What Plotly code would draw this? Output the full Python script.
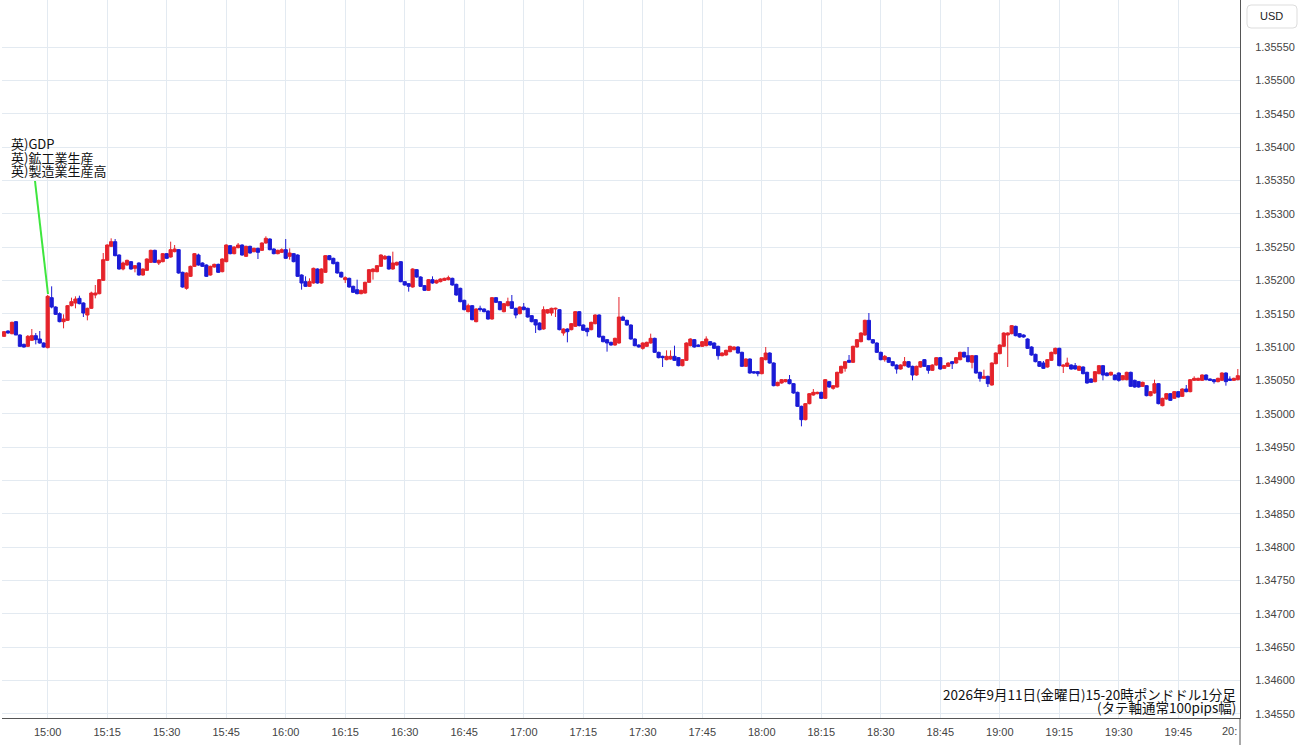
import plotly.graph_objects as go
import pandas as pd

# ---------------- data (GBP/USD 1-minute candles, 2026-09-11 14:49 - 20:00) ----------------
start_time = "2026-09-11 14:49"

opens = [
    1.35116, 1.35124, 1.35120, 1.35138, 1.35118, 1.35104, 1.35101, 1.35110, 1.35117, 1.35112, 1.35106,
    1.35099, 1.35174, 1.35160, 1.35150, 1.35138, 1.35140, 1.35162, 1.35166, 1.35173, 1.35166,
    1.35148, 1.35158, 1.35178, 1.35180, 1.35200, 1.35230, 1.35251, 1.35258, 1.35238, 1.35217,
    1.35223, 1.35228, 1.35218, 1.35226, 1.35208, 1.35215, 1.35227, 1.35245, 1.35226, 1.35228,
    1.35240, 1.35235, 1.35243, 1.35246, 1.35212, 1.35188, 1.35206, 1.35221, 1.35238, 1.35226,
    1.35223, 1.35208, 1.35220, 1.35224, 1.35213, 1.35228, 1.35252, 1.35240, 1.35249, 1.35253,
    1.35236, 1.35251, 1.35243, 1.35248, 1.35245, 1.35256, 1.35262, 1.35247, 1.35240, 1.35242,
    1.35246, 1.35236, 1.35240, 1.35238, 1.35208, 1.35198, 1.35191, 1.35196, 1.35217, 1.35196,
    1.35212, 1.35237, 1.35233, 1.35227, 1.35212, 1.35201, 1.35203, 1.35191, 1.35186, 1.35180,
    1.35181, 1.35197, 1.35213, 1.35213, 1.35221, 1.35232, 1.35236, 1.35217, 1.35223, 1.35228,
    1.35198, 1.35195, 1.35190, 1.35216, 1.35205, 1.35192, 1.35185, 1.35201, 1.35196, 1.35198,
    1.35200, 1.35201, 1.35203, 1.35194, 1.35188, 1.35170, 1.35153, 1.35162, 1.35138, 1.35158,
    1.35157, 1.35154, 1.35142, 1.35174, 1.35168, 1.35153, 1.35162, 1.35168, 1.35158, 1.35150,
    1.35160, 1.35158, 1.35147, 1.35141, 1.35136, 1.35127, 1.35151, 1.35151, 1.35157, 1.35156,
    1.35121, 1.35127, 1.35126, 1.35131, 1.35153, 1.35133, 1.35128, 1.35126, 1.35135, 1.35148,
    1.35116, 1.35111, 1.35107, 1.35103, 1.35106, 1.35145, 1.35140, 1.35133, 1.35112, 1.35103,
    1.35098, 1.35101, 1.35106, 1.35113, 1.35092, 1.35086, 1.35081, 1.35082, 1.35086, 1.35084,
    1.35072, 1.35080, 1.35102, 1.35111, 1.35103, 1.35101, 1.35102, 1.35108, 1.35106, 1.35101,
    1.35087, 1.35088, 1.35093, 1.35096, 1.35100, 1.35092, 1.35071, 1.35082, 1.35063, 1.35063,
    1.35060, 1.35081, 1.35091, 1.35076, 1.35042, 1.35046, 1.35048, 1.35051, 1.35045, 1.35032,
    1.35011, 1.34991, 1.35015, 1.35028, 1.35030, 1.35032, 1.35023, 1.35048, 1.35038, 1.35040,
    1.35061, 1.35068, 1.35080, 1.35077, 1.35100, 1.35108, 1.35118, 1.35140, 1.35111, 1.35106,
    1.35092, 1.35081, 1.35084, 1.35078, 1.35073, 1.35067, 1.35072, 1.35078, 1.35071, 1.35058,
    1.35070, 1.35081, 1.35072, 1.35065, 1.35073, 1.35084, 1.35068, 1.35071, 1.35078, 1.35076,
    1.35081, 1.35092, 1.35087, 1.35077, 1.35087, 1.35062, 1.35053, 1.35056, 1.35043, 1.35075,
    1.35090, 1.35101, 1.35118, 1.35120, 1.35131, 1.35120, 1.35118, 1.35112, 1.35100, 1.35089,
    1.35078, 1.35076, 1.35070, 1.35080, 1.35090, 1.35098, 1.35071, 1.35071, 1.35073, 1.35072,
    1.35065, 1.35070, 1.35062, 1.35052, 1.35048, 1.35060, 1.35072, 1.35061, 1.35058, 1.35058,
    1.35061, 1.35051, 1.35051, 1.35062, 1.35050, 1.35048, 1.35041, 1.35042, 1.35027, 1.35031,
    1.35045, 1.35012, 1.35022, 1.35030, 1.35023, 1.35033, 1.35026, 1.35037, 1.35033, 1.35050,
    1.35050, 1.35050, 1.35058, 1.35052, 1.35051, 1.35048, 1.35050, 1.35061, 1.35052, 1.35050, 1.35051,
]

highs = [
    1.35124, 1.35125, 1.35138, 1.35139, 1.35119, 1.35105, 1.35118, 1.35127, 1.35121, 1.35124, 1.35107,
    1.35178, 1.35191, 1.35161, 1.35152, 1.35149, 1.35163, 1.35174, 1.35176, 1.35177, 1.35167,
    1.35159, 1.35183, 1.35193, 1.35202, 1.35241, 1.35254, 1.35263, 1.35262, 1.35239, 1.35228,
    1.35231, 1.35229, 1.35223, 1.35227, 1.35218, 1.35233, 1.35246, 1.35246, 1.35231, 1.35241,
    1.35241, 1.35258, 1.35253, 1.35247, 1.35213, 1.35212, 1.35222, 1.35241, 1.35240, 1.35227,
    1.35224, 1.35222, 1.35225, 1.35225, 1.35233, 1.35254, 1.35253, 1.35251, 1.35256, 1.35254,
    1.35252, 1.35252, 1.35249, 1.35249, 1.35257, 1.35266, 1.35263, 1.35248, 1.35246, 1.35248,
    1.35262, 1.35248, 1.35241, 1.35239, 1.35209, 1.35206, 1.35203, 1.35219, 1.35218, 1.35218,
    1.35238, 1.35238, 1.35234, 1.35228, 1.35213, 1.35206, 1.35204, 1.35192, 1.35201, 1.35186,
    1.35198, 1.35217, 1.35218, 1.35223, 1.35239, 1.35238, 1.35237, 1.35243, 1.35228, 1.35229,
    1.35199, 1.35196, 1.35218, 1.35217, 1.35206, 1.35193, 1.35202, 1.35206, 1.35201, 1.35203,
    1.35204, 1.35207, 1.35204, 1.35195, 1.35189, 1.35171, 1.35165, 1.35163, 1.35158, 1.35162,
    1.35158, 1.35155, 1.35175, 1.35175, 1.35169, 1.35166, 1.35174, 1.35178, 1.35159, 1.35161,
    1.35166, 1.35159, 1.35148, 1.35142, 1.35137, 1.35161, 1.35157, 1.35159, 1.35159, 1.35157,
    1.35128, 1.35128, 1.35136, 1.35154, 1.35154, 1.35134, 1.35129, 1.35138, 1.35149, 1.35149,
    1.35117, 1.35112, 1.35108, 1.35114, 1.35175, 1.35147, 1.35141, 1.35134, 1.35113, 1.35104,
    1.35107, 1.35108, 1.35120, 1.35114, 1.35093, 1.35087, 1.35095, 1.35095, 1.35102, 1.35085,
    1.35082, 1.35107, 1.35113, 1.35112, 1.35104, 1.35109, 1.35116, 1.35109, 1.35107, 1.35102,
    1.35092, 1.35096, 1.35102, 1.35101, 1.35101, 1.35093, 1.35083, 1.35083, 1.35064, 1.35064,
    1.35085, 1.35100, 1.35092, 1.35077, 1.35048, 1.35052, 1.35052, 1.35058, 1.35046, 1.35033,
    1.35012, 1.35016, 1.35031, 1.35037, 1.35033, 1.35033, 1.35052, 1.35049, 1.35043, 1.35063,
    1.35072, 1.35079, 1.35088, 1.35102, 1.35112, 1.35122, 1.35141, 1.35151, 1.35112, 1.35107,
    1.35093, 1.35088, 1.35085, 1.35079, 1.35074, 1.35074, 1.35085, 1.35079, 1.35072, 1.35072,
    1.35079, 1.35082, 1.35073, 1.35074, 1.35085, 1.35085, 1.35073, 1.35077, 1.35079, 1.35085,
    1.35093, 1.35093, 1.35100, 1.35088, 1.35088, 1.35063, 1.35066, 1.35057, 1.35077, 1.35092,
    1.35104, 1.35122, 1.35122, 1.35133, 1.35132, 1.35121, 1.35119, 1.35113, 1.35101, 1.35090,
    1.35079, 1.35079, 1.35082, 1.35093, 1.35099, 1.35099, 1.35074, 1.35084, 1.35074, 1.35076,
    1.35072, 1.35071, 1.35063, 1.35053, 1.35064, 1.35073, 1.35073, 1.35062, 1.35063, 1.35059,
    1.35062, 1.35058, 1.35063, 1.35063, 1.35051, 1.35049, 1.35048, 1.35043, 1.35034, 1.35051,
    1.35046, 1.35024, 1.35031, 1.35031, 1.35034, 1.35034, 1.35038, 1.35043, 1.35052, 1.35056,
    1.35054, 1.35059, 1.35059, 1.35053, 1.35052, 1.35054, 1.35062, 1.35062, 1.35056, 1.35054, 1.35067,
]

lows = [
    1.35115, 1.35120, 1.35119, 1.35118, 1.35100, 1.35099, 1.35100, 1.35109, 1.35104, 1.35105, 1.35099,
    1.35098, 1.35158, 1.35148, 1.35137, 1.35128, 1.35139, 1.35161, 1.35158, 1.35164, 1.35145,
    1.35140, 1.35157, 1.35173, 1.35179, 1.35199, 1.35229, 1.35250, 1.35236, 1.35216, 1.35215,
    1.35222, 1.35216, 1.35212, 1.35207, 1.35207, 1.35214, 1.35226, 1.35226, 1.35223, 1.35227,
    1.35232, 1.35234, 1.35242, 1.35210, 1.35189, 1.35186, 1.35205, 1.35220, 1.35222, 1.35220,
    1.35205, 1.35207, 1.35219, 1.35211, 1.35212, 1.35227, 1.35239, 1.35239, 1.35248, 1.35237,
    1.35235, 1.35240, 1.35242, 1.35232, 1.35244, 1.35255, 1.35245, 1.35239, 1.35239, 1.35241,
    1.35232, 1.35231, 1.35227, 1.35205, 1.35186, 1.35190, 1.35190, 1.35195, 1.35195, 1.35195,
    1.35211, 1.35230, 1.35224, 1.35210, 1.35204, 1.35196, 1.35189, 1.35181, 1.35179, 1.35179,
    1.35180, 1.35196, 1.35201, 1.35212, 1.35220, 1.35231, 1.35216, 1.35216, 1.35222, 1.35197,
    1.35192, 1.35183, 1.35189, 1.35204, 1.35190, 1.35184, 1.35184, 1.35195, 1.35195, 1.35197,
    1.35199, 1.35200, 1.35192, 1.35177, 1.35167, 1.35155, 1.35152, 1.35140, 1.35137, 1.35153,
    1.35152, 1.35141, 1.35141, 1.35166, 1.35155, 1.35152, 1.35161, 1.35157, 1.35143, 1.35149,
    1.35155, 1.35144, 1.35137, 1.35121, 1.35125, 1.35126, 1.35150, 1.35147, 1.35145, 1.35125,
    1.35117, 1.35107, 1.35125, 1.35130, 1.35131, 1.35124, 1.35116, 1.35125, 1.35134, 1.35114,
    1.35107, 1.35093, 1.35102, 1.35102, 1.35105, 1.35139, 1.35132, 1.35111, 1.35101, 1.35099,
    1.35096, 1.35100, 1.35105, 1.35091, 1.35083, 1.35070, 1.35080, 1.35081, 1.35079, 1.35071,
    1.35071, 1.35079, 1.35101, 1.35099, 1.35100, 1.35100, 1.35101, 1.35102, 1.35097, 1.35081,
    1.35086, 1.35087, 1.35092, 1.35095, 1.35090, 1.35070, 1.35070, 1.35060, 1.35060, 1.35056,
    1.35059, 1.35080, 1.35075, 1.35041, 1.35041, 1.35045, 1.35047, 1.35044, 1.35030, 1.35010,
    1.34981, 1.34990, 1.35014, 1.35027, 1.35029, 1.35022, 1.35022, 1.35039, 1.35036, 1.35039,
    1.35060, 1.35063, 1.35076, 1.35076, 1.35099, 1.35107, 1.35117, 1.35110, 1.35105, 1.35091,
    1.35080, 1.35078, 1.35076, 1.35071, 1.35060, 1.35066, 1.35071, 1.35069, 1.35050, 1.35057,
    1.35069, 1.35070, 1.35060, 1.35064, 1.35072, 1.35066, 1.35067, 1.35070, 1.35067, 1.35075,
    1.35080, 1.35084, 1.35077, 1.35068, 1.35060, 1.35048, 1.35052, 1.35040, 1.35042, 1.35074,
    1.35089, 1.35100, 1.35070, 1.35119, 1.35116, 1.35114, 1.35114, 1.35097, 1.35087, 1.35077,
    1.35070, 1.35067, 1.35069, 1.35079, 1.35089, 1.35071, 1.35061, 1.35070, 1.35066, 1.35066,
    1.35064, 1.35059, 1.35045, 1.35046, 1.35047, 1.35059, 1.35050, 1.35056, 1.35057, 1.35050,
    1.35048, 1.35050, 1.35050, 1.35040, 1.35039, 1.35039, 1.35040, 1.35026, 1.35026, 1.35030,
    1.35014, 1.35011, 1.35021, 1.35019, 1.35022, 1.35024, 1.35025, 1.35032, 1.35032, 1.35049,
    1.35049, 1.35049, 1.35050, 1.35049, 1.35045, 1.35047, 1.35049, 1.35042, 1.35049, 1.35049, 1.35050,
]

closes = [
    1.35123, 1.35121, 1.35137, 1.35118, 1.35101, 1.35100, 1.35116, 1.35117, 1.35111, 1.35106, 1.35100,
    1.35176, 1.35160, 1.35149, 1.35138, 1.35142, 1.35162, 1.35168, 1.35172, 1.35165, 1.35151,
    1.35158, 1.35181, 1.35181, 1.35201, 1.35231, 1.35253, 1.35258, 1.35237, 1.35217, 1.35226,
    1.35230, 1.35217, 1.35222, 1.35208, 1.35217, 1.35232, 1.35245, 1.35227, 1.35230, 1.35240,
    1.35233, 1.35246, 1.35247, 1.35211, 1.35190, 1.35211, 1.35221, 1.35240, 1.35223, 1.35221,
    1.35206, 1.35221, 1.35224, 1.35212, 1.35232, 1.35253, 1.35240, 1.35250, 1.35253, 1.35238,
    1.35251, 1.35241, 1.35248, 1.35242, 1.35256, 1.35263, 1.35246, 1.35240, 1.35245, 1.35246,
    1.35233, 1.35241, 1.35228, 1.35206, 1.35196, 1.35191, 1.35198, 1.35218, 1.35196, 1.35217,
    1.35237, 1.35231, 1.35225, 1.35211, 1.35205, 1.35204, 1.35190, 1.35182, 1.35180, 1.35185,
    1.35197, 1.35216, 1.35217, 1.35222, 1.35238, 1.35236, 1.35217, 1.35226, 1.35227, 1.35198,
    1.35193, 1.35191, 1.35217, 1.35205, 1.35191, 1.35185, 1.35201, 1.35196, 1.35200, 1.35202,
    1.35203, 1.35204, 1.35193, 1.35178, 1.35168, 1.35156, 1.35162, 1.35141, 1.35157, 1.35156,
    1.35153, 1.35142, 1.35174, 1.35167, 1.35156, 1.35165, 1.35168, 1.35158, 1.35148, 1.35160,
    1.35156, 1.35145, 1.35138, 1.35133, 1.35126, 1.35156, 1.35156, 1.35158, 1.35158, 1.35126,
    1.35127, 1.35123, 1.35135, 1.35153, 1.35132, 1.35125, 1.35123, 1.35137, 1.35148, 1.35115,
    1.35108, 1.35106, 1.35103, 1.35113, 1.35145, 1.35140, 1.35133, 1.35112, 1.35102, 1.35100,
    1.35106, 1.35107, 1.35113, 1.35092, 1.35084, 1.35084, 1.35086, 1.35086, 1.35080, 1.35072,
    1.35081, 1.35106, 1.35112, 1.35100, 1.35101, 1.35108, 1.35112, 1.35103, 1.35098, 1.35087,
    1.35091, 1.35095, 1.35101, 1.35100, 1.35091, 1.35071, 1.35082, 1.35061, 1.35061, 1.35060,
    1.35084, 1.35091, 1.35076, 1.35042, 1.35047, 1.35051, 1.35051, 1.35045, 1.35031, 1.35011,
    1.34991, 1.35015, 1.35030, 1.35032, 1.35032, 1.35023, 1.35051, 1.35040, 1.35042, 1.35062,
    1.35071, 1.35078, 1.35077, 1.35101, 1.35111, 1.35121, 1.35140, 1.35111, 1.35106, 1.35092,
    1.35081, 1.35086, 1.35077, 1.35072, 1.35067, 1.35073, 1.35078, 1.35070, 1.35058, 1.35071,
    1.35078, 1.35071, 1.35065, 1.35073, 1.35084, 1.35067, 1.35072, 1.35076, 1.35075, 1.35084,
    1.35092, 1.35085, 1.35078, 1.35087, 1.35061, 1.35053, 1.35056, 1.35045, 1.35076, 1.35091,
    1.35103, 1.35121, 1.35121, 1.35132, 1.35117, 1.35115, 1.35115, 1.35098, 1.35088, 1.35078,
    1.35071, 1.35068, 1.35081, 1.35092, 1.35098, 1.35072, 1.35073, 1.35076, 1.35067, 1.35067,
    1.35071, 1.35060, 1.35046, 1.35047, 1.35063, 1.35072, 1.35058, 1.35057, 1.35062, 1.35051,
    1.35050, 1.35057, 1.35062, 1.35041, 1.35040, 1.35040, 1.35047, 1.35027, 1.35033, 1.35045,
    1.35015, 1.35023, 1.35030, 1.35020, 1.35033, 1.35025, 1.35037, 1.35033, 1.35051, 1.35053,
    1.35053, 1.35058, 1.35051, 1.35050, 1.35048, 1.35053, 1.35061, 1.35048, 1.35050, 1.35053, 1.35057,
]

x_tick_labels = ["15:00", "15:15", "15:30", "15:45", "16:00", "16:15", "16:30", "16:45", "17:00",
                 "17:15", "17:30", "17:45", "18:00", "18:15", "18:30", "18:45", "19:00", "19:15",
                 "19:30", "19:45"]
y_tick_values = [1.34550, 1.34600, 1.34650, 1.34700, 1.34750, 1.34800, 1.34850, 1.34900, 1.34950,
                 1.35000, 1.35050, 1.35100, 1.35150, 1.35200, 1.35250, 1.35300, 1.35350, 1.35400,
                 1.35450, 1.35500, 1.35550]
y_tick_labels = ["1.34550", "1.34600", "1.34650", "1.34700", "1.34750", "1.34800", "1.34850",
                 "1.34900", "1.34950", "1.35000", "1.35050", "1.35100", "1.35150", "1.35200",
                 "1.35250", "1.35300", "1.35350", "1.35400", "1.35450", "1.35500", "1.35550"]

news_lines = ["英)GDP", "英)鉱工業生産", "英)製造業生産高"]
caption_lines = ["2026年9月11日(金曜日)15-20時ポンドドル1分足", "(タテ軸通常100pips幅)"]
currency_label = "USD"

# ---------------- styling ----------------
W, H = 1300, 745
ML, MR, MT, MB = 2, 60, 0, 27
PW, PH = W - ML - MR, H - MT - MB
RED = "#e5232b"
BLUE = "#1b1bd6"
GRID = "#e3eaf1"
AXIS = "#555555"
TICK_FONT = dict(family="Liberation Sans, Arial, sans-serif", size=11, color="#444444")
JP_FONT = "Noto Sans CJK JP, sans-serif"


def xp(px):
    return (px - ML) / PW


def yp(py):
    return 1 - (py - MT) / PH


times = pd.date_range(start_time, periods=len(opens), freq="min")
day = start_time.split(" ")[0]

fig = go.Figure(
    go.Candlestick(
        x=times, open=opens, high=highs, low=lows, close=closes,
        increasing=dict(line=dict(color=RED, width=1), fillcolor=RED),
        decreasing=dict(line=dict(color=BLUE, width=1), fillcolor=BLUE),
        whiskerwidth=0,
        showlegend=False,
    )
)

annotations = []
for i, t in enumerate(news_lines):
    annotations.append(dict(
        text=t, xref="paper", yref="paper", x=xp(9), y=yp(144 + 13.5 * i),
        xanchor="left", yanchor="middle", showarrow=False,
        font=dict(family=JP_FONT, size=13, color="#111111"),
    ))
for i, t in enumerate(caption_lines):
    annotations.append(dict(
        text=t, xref="paper", yref="paper", x=xp(1238), y=yp(694 + 13 * i),
        xanchor="right", yanchor="middle", showarrow=False,
        font=dict(family=JP_FONT, size=13.5, color="#111111"),
    ))
annotations.append(dict(
    text=currency_label, xref="paper", yref="paper", x=xp(1271), y=yp(16),
    xanchor="center", yanchor="middle", showarrow=False,
    font=dict(family="Liberation Sans, Arial, sans-serif", size=11, color="#222222"),
))
annotations.append(dict(
    text="20:", xref="paper", yref="paper", x=xp(1239), y=yp(731),
    xanchor="right", yanchor="middle", showarrow=False, font=TICK_FONT,
))


def rounded_box(x0, y0, x1, y1, r):
    X0, X1 = xp(x0), xp(x1)
    Y0, Y1 = yp(y0), yp(y1)
    rx, ry = r / PW, r / PH
    return (f"M {X0 + rx},{Y0} L {X1 - rx},{Y0} Q {X1},{Y0} {X1},{Y0 - ry} "
            f"L {X1},{Y1 + ry} Q {X1},{Y1} {X1 - rx},{Y1} L {X0 + rx},{Y1} "
            f"Q {X0},{Y1} {X0},{Y1 + ry} L {X0},{Y0 - ry} Q {X0},{Y0} {X0 + rx},{Y0} Z")


shapes = [
    # news pointer line
    dict(type="line", xref="paper", yref="paper", x0=xp(35), y0=yp(181), x1=xp(48), y1=yp(294),
         line=dict(color="#3ee63e", width=2)),
    # currency box
    dict(type="path", xref="paper", yref="paper", path=rounded_box(1247, 5, 1297, 28, 4),
         line=dict(color="#dddddd", width=1), fillcolor="rgba(0,0,0,0)", layer="above"),
    # right axis line extended down to the bottom edge
    dict(type="line", xref="paper", yref="paper", x0=1, y0=yp(718), x1=1, y1=yp(745),
         line=dict(color=AXIS, width=1)),
]

fig.update_layout(
    width=W, height=H,
    margin=dict(l=ML, r=MR, t=MT, b=MB, pad=0),
    paper_bgcolor="white", plot_bgcolor="white",
    boxgap=0.1, boxgroupgap=0.1,
    showlegend=False,
    annotations=annotations,
    shapes=shapes,
    xaxis=dict(
        type="date",
        range=[f"{day} 14:48:29", f"{day} 20:00:33"],
        rangeslider=dict(visible=False),
        tickvals=[f"{day} {t}" for t in x_tick_labels],
        ticktext=x_tick_labels,
        showgrid=True, gridcolor=GRID, gridwidth=1,
        showline=True, linecolor=AXIS, linewidth=1,
        ticks="", tickfont=TICK_FONT, ticklabelstandoff=4,
        zeroline=False,
    ),
    yaxis=dict(
        side="right",
        range=[1.345435, 1.356205],
        tickvals=y_tick_values, ticktext=y_tick_labels,
        showgrid=True, gridcolor=GRID, gridwidth=1,
        showline=True, linecolor=AXIS, linewidth=1,
        ticks="", tickfont=TICK_FONT, ticklabelstandoff=12,
        zeroline=False,
    ),
)

fig.write_html(
    "out.html",
    config={"displayModeBar": False},
    post_script="document.body.style.margin='0';document.body.style.overflow='hidden';",
)
